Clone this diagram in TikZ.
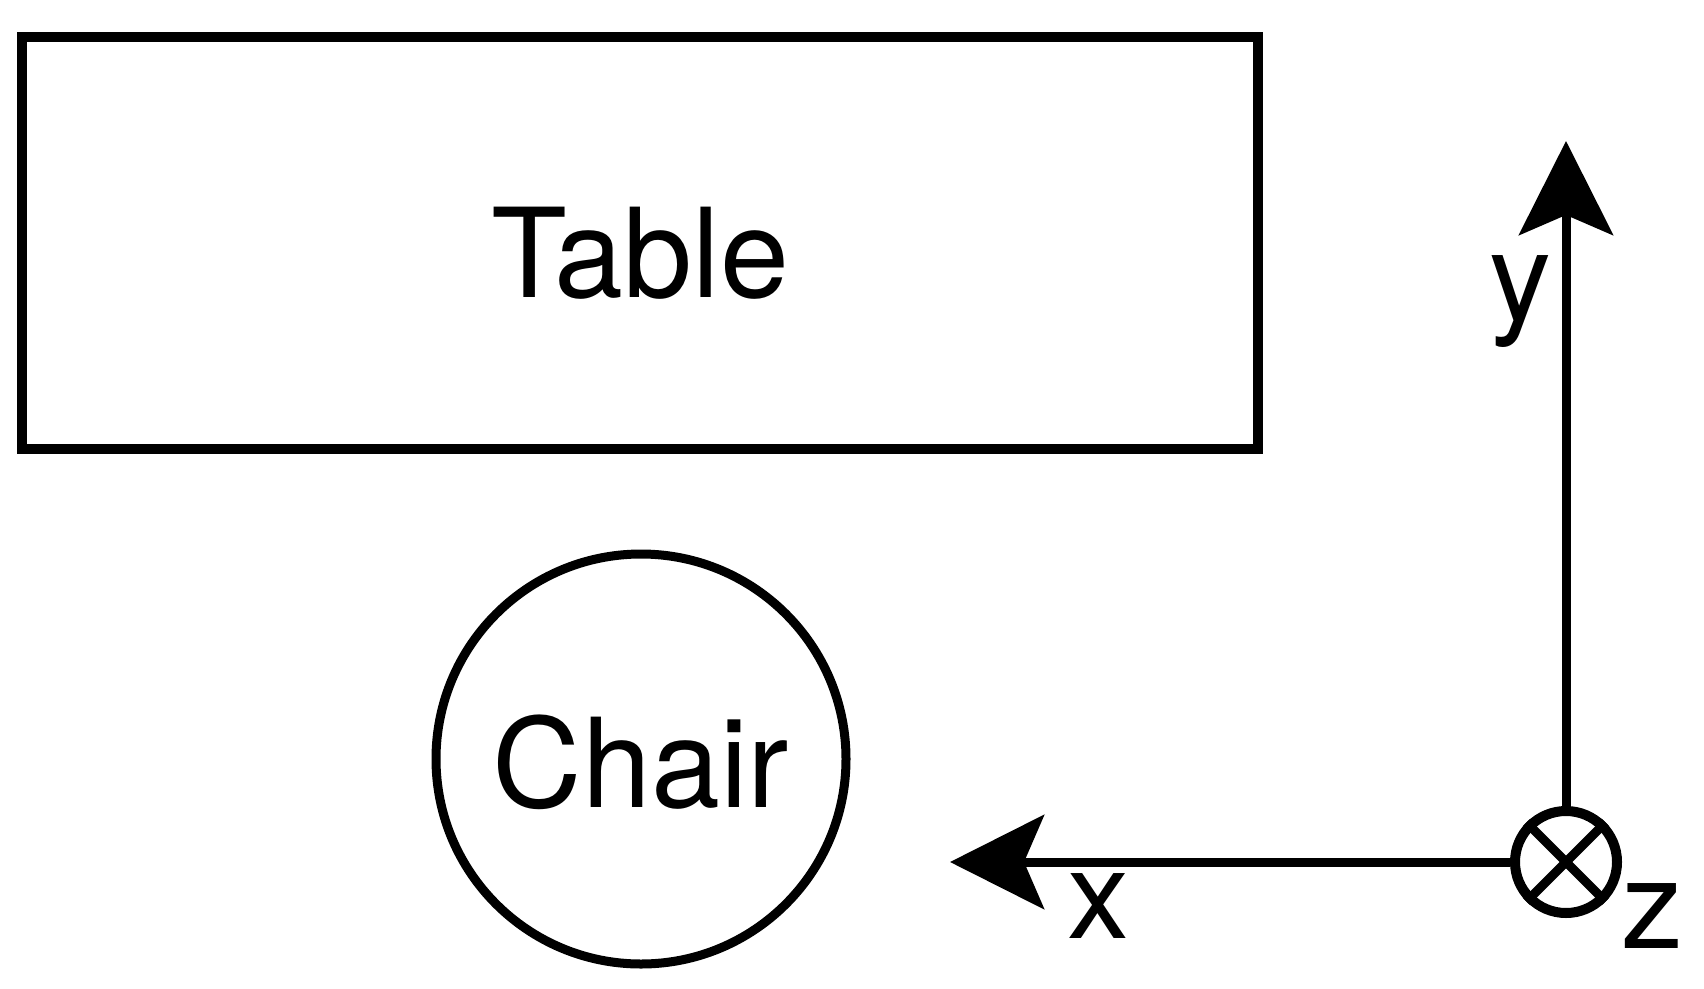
\documentclass[tikz,border=0pt]{standalone}
\usepackage{fontspec}
\setmainfont{TeX Gyre Heros}
\usetikzlibrary{arrows.meta, positioning}

\begin{document}
\begin{tikzpicture}[
  x=1pt, y=-1pt,
  obj/.style={draw, line width=9pt, inner sep=0pt, font=\fontsize{124}{124}\selectfont},
  furn/.style={obj, rectangle, line width=10pt, minimum width=1236pt, minimum height=412pt, text height=108pt, text depth=0pt},
  seat/.style={obj, circle, minimum size=410pt, text height=97pt, text depth=0pt},
  axis/.style={line width=9pt, -{Stealth[length=94pt, width=94pt, inset=20pt]}},
  lbl/.style={anchor=base, inner sep=0pt, font=\fontsize{124}{124}\selectfont}
]
\useasboundingbox (0,0) rectangle (1704,988);
% Objects
\node[furn] (table) at (640,243) {Table};
\node[seat] (chair) at (641,759) {Chair};
% Frame
\node[draw, circle, line width=10pt, minimum size=102pt, inner sep=0pt] (origin) at (1566,862) {};
\draw[line width=9pt] (origin.north west) -- (origin.south east);
\draw[line width=9pt] (origin.north east) -- (origin.south west);
\coordinate (xend) at (950,862);
\coordinate (yend) at (1566,141);
\draw[axis] (origin.west) -- (xend);
\draw[axis] (origin.north) -- (yend);
% Labels
\node[lbl] (xlbl) at (1098,938) {x};
\node[lbl] (ylbl) at (1520,320) {y};
\node[lbl] (zlbl) at (1652,948) {z};
\end{tikzpicture}
\end{document}
